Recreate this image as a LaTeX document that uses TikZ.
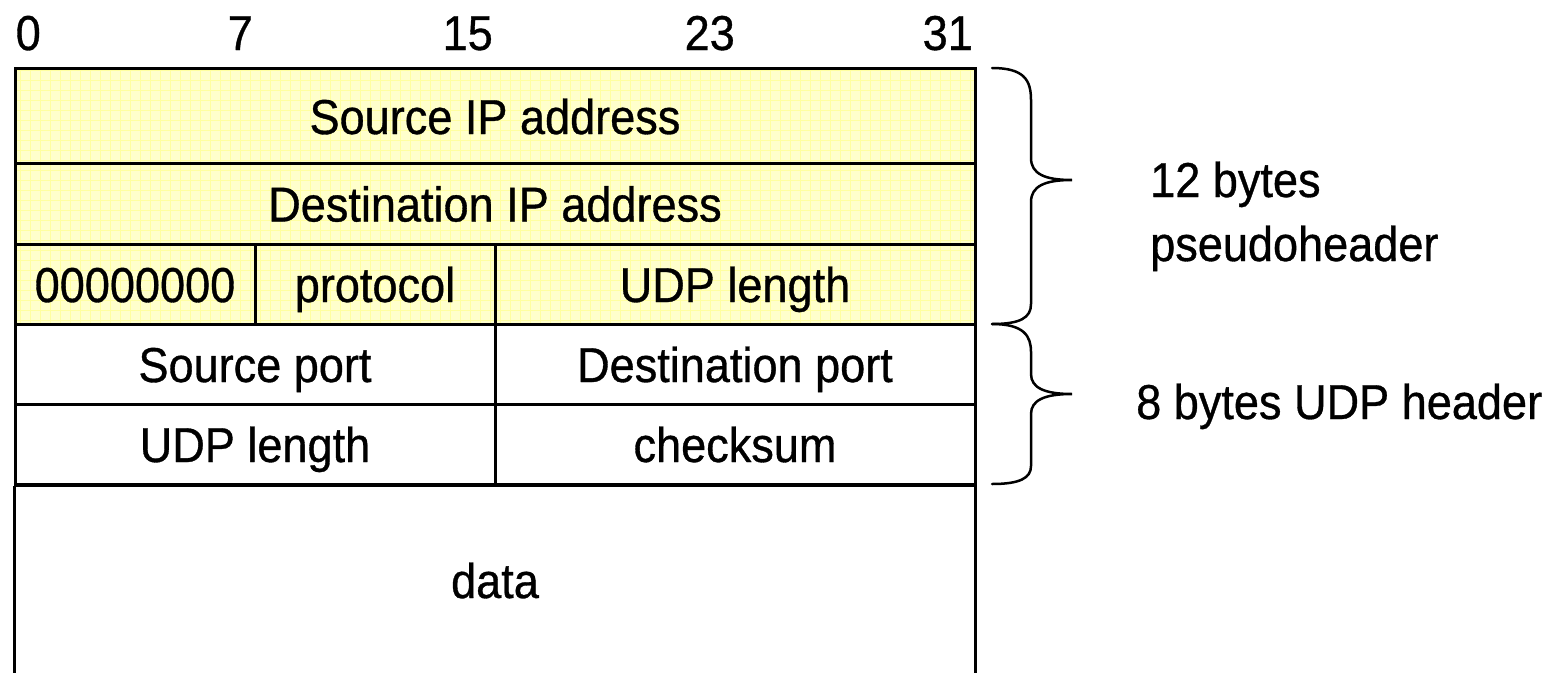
\documentclass[tikz,border=0pt]{standalone}
\usepackage{fontspec}
\setmainfont[FakeStretch=0.92,FakeBold=0.7]{Liberation Sans}
\begin{document}
\begin{tikzpicture}[x=1pt,y=-1pt,
  txt/.style={font=\fontsize{49}{60}\selectfont, inner sep=0pt},
  ctxt/.style={txt, text height=36pt, text depth=0pt},
  cell/.style={draw=black, line width=3pt, ctxt, minimum height=#1},
  yfill/.style={fill={rgb,255:red,255;green,255;blue,204}},
  gridc/.style={draw={rgb,255:red,255;green,255;blue,160}, line width=0.8pt},
  brace/.style={draw=black, line width=2.5pt, line cap=round}]
\useasboundingbox (0,0) rectangle (1554,672);
% yellow pseudo header background with grid
\fill[yfill] (15,68) rectangle (975,324);
\draw[gridc, step=10pt] (15,68) grid (975,324);
% bit numbers
\node[txt, anchor=base east] (b0)  at (41,50)  {0};
\node[txt, anchor=base east] (b7)  at (253,50) {7};
\node[txt, anchor=base east] (b15) at (493,50) {15};
\node[txt, anchor=base east] (b23) at (735,50) {23};
\node[txt, anchor=base east] (b31) at (973,50) {31};
% cells
\node[cell=95pt,  minimum width=960pt] (sip) at (495,116) {Source IP address};
\node[cell=81pt,  minimum width=960pt] (dip) at (495,203.5) {Destination IP address};
\node[cell=80pt,  minimum width=240pt] (zero) at (135,284) {00000000};
\node[cell=80pt,  minimum width=240pt] (prot) at (375,284) {protocol};
\node[cell=80pt,  minimum width=480pt] (plen) at (735,284) {UDP length};
\node[cell=80pt,  minimum width=480pt] (sport) at (255,364) {Source port};
\node[cell=80pt,  minimum width=480pt] (dport) at (735,364) {Destination port};
\node[cell=80pt,  minimum width=480pt] (ulen) at (255,444) {UDP length};
\node[cell=80pt,  minimum width=480pt] (csum) at (735,444) {checksum};
\node[ctxt, minimum width=960pt, minimum height=188pt] (data) at (495,580) {data};
\draw[line width=3pt] (data.north west) -- (data.south west)
      (data.north east) -- (data.south east)
      (data.north west) -- (data.north east);
% braces
\draw[brace] (992,68) .. controls (1024,68) and (1031,80) .. (1031,100)
  -- (1031,158) .. controls (1031,174) and (1045,180) .. (1072,180)
  .. controls (1045,180) and (1031,186) .. (1031,202)
  -- (1031,304) .. controls (1031,318) and (1020,324) .. (992,324);
\draw[brace] (992,324) .. controls (1024,324) and (1031,336) .. (1031,352)
  -- (1031,374) .. controls (1031,388) and (1045,394) .. (1072,394)
  .. controls (1045,394) and (1031,400) .. (1031,414)
  -- (1031,466) .. controls (1031,478) and (1020,484) .. (992,484);
% labels
\node[txt, anchor=base west] (lab1) at (1150,197) {12 bytes};
\node[txt, anchor=base west] (lab2) at (1150,261) {pseudoheader};
\node[txt, anchor=base west] (lab3) at (1136,419) {8 bytes UDP header};
\end{tikzpicture}
\end{document}
